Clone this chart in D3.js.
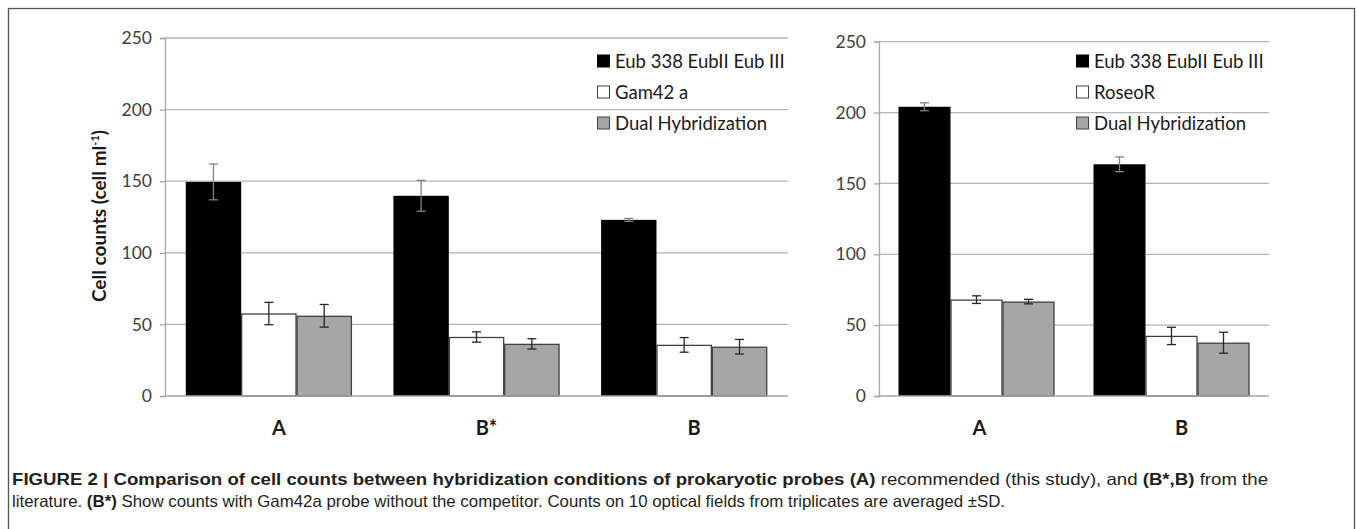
<!DOCTYPE html>
<html>
<head>
<meta charset="utf-8">
<script src="https://cdn.jsdelivr.net/npm/d3@7"></script>
<style>
  html, body { margin: 0; padding: 0; background: #fff; }
  svg { display: block; }
</style>
</head>
<body>
<svg id="chart" width="1357" height="529"></svg>
<script>
// ---------- DATA ----------
const leftCategories = ["A", "B*", "B"];
const leftSeries = ["Eub 338 EubII Eub III", "Gam42 a", "Dual Hybridization"];
const leftEub = [149.5, 139.8, 123.0];
const leftEubErr = [12.5, 10.8, 1.0];
const leftGam = [57.6, 41.2, 35.7];
const leftGamErr = [7.8, 3.6, 5.1];
const leftDual = [56.0, 36.4, 34.4];
const leftDualErr = [7.9, 3.6, 5.1];

const rightCategories = ["A", "B"];
const rightSeries = ["Eub 338 EubII Eub III", "RoseoR", "Dual Hybridization"];
const rightEub = [204.1, 163.5];
const rightEubErr = [2.8, 5.2];
const rightRoseo = [68.0, 42.4];
const rightRoseoErr = [2.7, 6.1];
const rightDual = [66.6, 37.6];
const rightDualErr = [1.6, 7.4];

const yTicks = [0, 50, 100, 150, 200, 250];
const yTitle = "Cell counts (cell ml";
const yTitleSup = "-1";
const yTitleEnd = ")";

const captionLine1 = [
  {t: "FIGURE 2 | Comparison of cell counts between hybridization conditions of prokaryotic probes (A)", b: true},
  {t: " recommended (this study), and ", b: false},
  {t: "(B*,B)", b: true},
  {t: " from the", b: false}
];
const captionLine2 = [
  {t: "literature. ", b: false},
  {t: "(B*)", b: true},
  {t: " Show counts with Gam42a probe without the competitor. Counts on 10 optical fields from triplicates are averaged \u00B1SD.", b: false}
];

// ---------- DRAW ----------
const svg = d3.select("#chart");
const FONT = "Lato, 'Open Sans', sans-serif";
const fills = ["#000000", "#ffffff", "#a6a6a6"];
const strokes = ["none", "#404040", "#404040"];
const errColors = ["#808080", "#262626", "#262626"];

// outer frame
svg.append("rect")
  .attr("x", 8.5).attr("y", 8.5)
  .attr("width", 1346).attr("height", 540)
  .attr("fill", "none").attr("stroke", "#555").attr("stroke-width", 1.3);

function drawChart(cfg) {
  const g = svg.append("g");
  const y = d3.scaleLinear().domain([0, 250]).range([cfg.y0, cfg.y1]);
  const x0 = d3.scaleBand().domain(cfg.categories).range([cfg.x0, cfg.x1])
    .paddingInner(0.2).paddingOuter(0.1);
  const x1 = d3.scaleBand().domain(d3.range(cfg.series.length))
    .range([0, x0.bandwidth()]).padding(0);

  // gridlines
  g.append("g").selectAll("line").data(yTicks.filter(d => d > 0)).join("line")
    .attr("x1", cfg.x0).attr("x2", cfg.x1)
    .attr("y1", d => y(d)).attr("y2", d => y(d))
    .attr("stroke", "#b3b3b3").attr("stroke-width", 1.3);

  // y axis
  const yAxis = d3.axisLeft(y).tickValues(yTicks).tickSize(5).tickPadding(8);
  const ya = g.append("g").attr("transform", `translate(${cfg.x0},0)`).call(yAxis);
  ya.select(".domain").attr("stroke", "#a6a6a6").attr("stroke-width", 1.3);
  ya.selectAll(".tick line").attr("stroke", "#a6a6a6").attr("stroke-width", 1.3);
  ya.selectAll(".tick text").attr("font-family", FONT).attr("font-size", 17.5)
    .attr("fill", "#404040");

  // bars
  cfg.values.forEach((vals, si) => {
    g.append("g").selectAll("rect").data(vals).join("rect")
      .attr("x", (d, i) => x0(cfg.categories[i]) + x1(si) + (si > 0 ? 0.5 : 0))
      .attr("y", d => y(d) + (si > 0 ? 0.5 : 0))
      .attr("width", x1.bandwidth() - (si > 0 ? 1 : 0))
      .attr("height", d => y(0) - y(d) - (si > 0 ? 0.5 : 0))
      .attr("fill", fills[si])
      .attr("stroke", strokes[si]).attr("stroke-width", 1.3);
  });

  // x axis baseline
  g.append("line").attr("x1", cfg.x0).attr("x2", cfg.x1)
    .attr("y1", y(0)).attr("y2", y(0))
    .attr("stroke", "#a6a6a6").attr("stroke-width", 1.3);

  // error bars
  cfg.values.forEach((vals, si) => {
    const errs = cfg.errors[si];
    const eg = g.append("g").attr("stroke", errColors[si]).attr("stroke-width", 1.3);
    vals.forEach((v, i) => {
      const cx = x0(cfg.categories[i]) + x1(si) + x1.bandwidth() / 2;
      const top = y(v + errs[i]), bot = y(v - errs[i]);
      eg.append("line").attr("x1", cx).attr("x2", cx).attr("y1", top).attr("y2", bot);
      eg.append("line").attr("x1", cx - 4.5).attr("x2", cx + 4.5).attr("y1", top).attr("y2", top);
      eg.append("line").attr("x1", cx - 4.5).attr("x2", cx + 4.5).attr("y1", bot).attr("y2", bot);
    });
  });

  // category labels
  g.append("g").selectAll("text").data(cfg.categories).join("text")
    .attr("x", (d, i) => x0(d) + x0.bandwidth() / 2 + cfg.labelDx[i])
    .attr("y", 435)
    .attr("text-anchor", "middle")
    .attr("font-family", FONT).attr("font-weight", "bold").attr("font-size", 20)
    .attr("fill", "#1a1a1a")
    .text(d => d);

  // legend
  const lg = g.append("g").attr("transform", `translate(${cfg.legendX},0)`);
  cfg.series.forEach((s, si) => {
    const cy = cfg.legendY + si * 31;
    lg.append("rect").attr("x", 0.5).attr("y", cy - 6).attr("width", 12).attr("height", 12)
      .attr("fill", fills[si]).attr("stroke", si === 0 ? "#000" : "#404040").attr("stroke-width", 1);
    lg.append("text").attr("x", 18).attr("y", cy).attr("dy", "0.36em")
      .attr("font-family", FONT).attr("font-size", 18.5).attr("fill", "#1a1a1a")
      .text(s);
  });
}

drawChart({
  categories: leftCategories, series: leftSeries,
  values: [leftEub, leftGam, leftDual],
  errors: [leftEubErr, leftGamErr, leftDualErr],
  x0: 165, x1: 788, y0: 396, y1: 38,
  legendX: 597, legendY: 61, labelDx: [10, 10, 10]
});

drawChart({
  categories: rightCategories, series: rightSeries,
  values: [rightEub, rightRoseo, rightDual],
  errors: [rightEubErr, rightRoseoErr, rightDualErr],
  x0: 879, x1: 1269, y0: 396, y1: 41.7,
  legendX: 1076, legendY: 61, labelDx: [3, 10]
});

// y-axis title (left chart)
const yt = svg.append("text")
  .attr("transform", "translate(106,216) rotate(-90)")
  .attr("text-anchor", "middle")
  .attr("font-family", FONT).attr("font-weight", "bold").attr("font-size", 19)
  .attr("fill", "#1a1a1a");
yt.append("tspan").text(yTitle);
yt.append("tspan").attr("font-size", 11).attr("dy", -7).text(yTitleSup);
yt.append("tspan").attr("dy", 7).text(yTitleEnd);

// caption
const CAP_FONT = "'Liberation Sans Narrow', 'Liberation Sans', Arial, sans-serif";
function captionLine(parts, yPos, width) {
  const t = svg.append("text").attr("x", 12).attr("y", yPos)
    .attr("font-family", CAP_FONT).attr("font-size", 16.5).attr("fill", "#231f20");
  parts.forEach(p => {
    t.append("tspan").attr("font-weight", p.b ? "bold" : "normal").text(p.t);
  });
  if (width) {
    t.attr("textLength", width).attr("lengthAdjust", "spacingAndGlyphs");
  }
  return t;
}
captionLine(captionLine1, 485, 1256);
captionLine(captionLine2, 507, 993);
</script>
</body>
</html>
